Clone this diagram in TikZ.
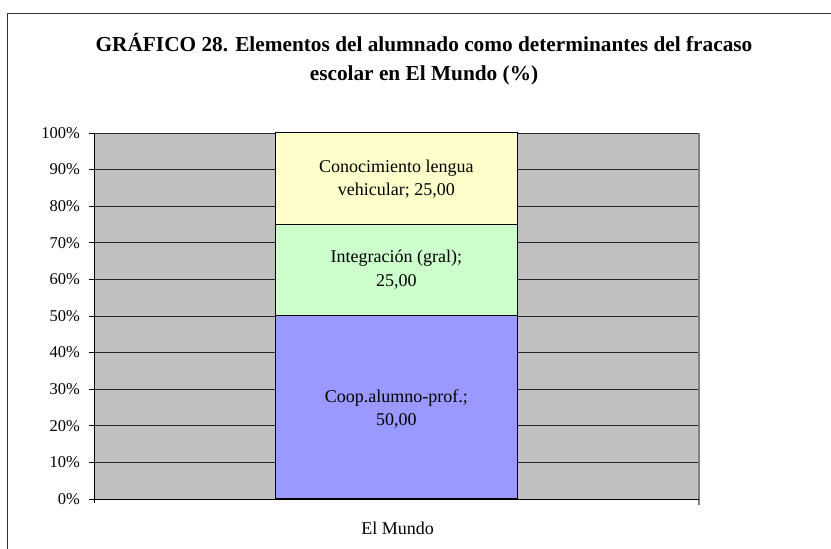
\documentclass[tikz,border=0pt]{standalone}
\usepackage{fontspec}
\setmainfont{Liberation Serif}
\definecolor{plotgray}{HTML}{C0C0C0}
\definecolor{segyellow}{HTML}{FFFFCC}
\definecolor{seggreen}{HTML}{CCFFCC}
\definecolor{segblue}{HTML}{9999FF}
\definecolor{axisgray}{HTML}{808080}
\tikzset{
  ylab/.style={anchor=east, inner sep=0pt, font=\fontsize{16.5}{18}\selectfont},
  seglab/.style={align=center, inner sep=0pt, font=\fontsize{18}{23.5}\selectfont},
  segbox/.style={draw=black, line width=0.9pt},
  grid line/.style={draw=black!85, line width=0.9pt},
  titlefont/.style={anchor=base, inner sep=0pt, font=\bfseries\fontsize{21.3}{28}\selectfont},
}
\begin{document}
\begin{tikzpicture}[x=1pt, y=-1pt]
\useasboundingbox (0,0) rectangle (831,549);
% outer frame (cut off at right and bottom)
\draw[black!80, line width=1pt] (7,549) -- (7,13) -- (831,13);
% title
\node[titlefont] (title1) at (424,51) {GRÁFICO 28. Elementos del alumnado como determinantes del fracaso};
\node[titlefont] (title2) at (424,80) {escolar en El Mundo (\%)};
% plot area
\fill[plotgray] (94,133) rectangle (699,499);
\foreach \i in {1,...,10} {
  \draw[grid line] (94,{499-36.6*\i}) -- (699,{499-36.6*\i});
}
% bar segments
\node[segbox, fill=segblue, minimum width=242pt, minimum height=183pt, inner sep=0pt, anchor=south west] (coop) at (275,499) {};
\node[segbox, fill=seggreen, minimum width=242pt, minimum height=91.5pt, inner sep=0pt, anchor=south west] (integ) at (275,316) {};
\node[segbox, fill=segyellow, minimum width=242pt, minimum height=91.5pt, inner sep=0pt, anchor=south west] (cono) at (275,224.5) {};
\node[seglab] (conolab) at ([yshift=-1pt]cono.center) {Conocimiento lengua\\vehicular; 25,00};
\node[seglab] (integlab) at (integ.center) {Integración (gral);\\25,00};
\node[seglab] (cooplab) at ([yshift=-2pt]coop.center) {Coop.alumno-prof.;\\50,00};
% right border of plot area
\draw[axisgray, line width=1.2pt] (699,133) -- (699,505);
% axes
\draw[black, line width=1pt] (94,133) -- (94,503);
\draw[black, line width=1pt] (94,499) -- (699,499);
\foreach \i in {0,...,10} {
  \draw[black, line width=1pt] (89,{499-36.6*\i}) -- (94,{499-36.6*\i});
  \pgfmathtruncatemacro{\p}{10*\i}
  \node[ylab] (y\i) at (80,{499-36.6*\i}) {\p\%};
}
\node[font=\fontsize{18}{20}\selectfont, inner sep=0pt] (cat) at (397.5,528) {El Mundo};
\end{tikzpicture}
\end{document}
